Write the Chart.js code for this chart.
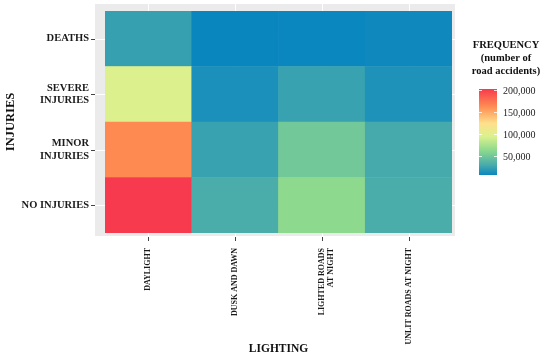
<!DOCTYPE html>
<html>
<head>
<meta charset="utf-8">
<script src="https://cdn.jsdelivr.net/npm/chart.js@4/dist/chart.umd.min.js"></script>
<style>
  html, body { margin: 0; padding: 0; background: #fff; }
  canvas { display: block; }
</style>
</head>
<body>
<canvas id="heat" width="550" height="358"></canvas>
<script>
// columns (x) and rows (y, bottom to top)
const lighting = [["DAYLIGHT"], ["DUSK AND DAWN"], ["LIGHTED ROADS", "AT NIGHT"], ["UNLIT ROADS AT NIGHT"]];
const injuries = [["NO INJURIES"], ["MINOR", "INJURIES"], ["SEVERE", "INJURIES"], ["DEATHS"]];

// frequency (number of road accidents), one array per injury row
const noInjuries = [203000, 32000, 64000, 32000];
const minorInjuries = [164000, 25000, 51000, 30000];
const severeInjuries = [96000, 14000, 25000, 15500];
const deaths = [24000, 8000, 8500, 10000];

const legendTicks = [50000, 100000, 150000, 200000];

const rows = [noInjuries, minorInjuries, severeInjuries, deaths];
const allValues = rows.flat();
const vmin = Math.min(...allValues);
const vmax = Math.max(...allValues);

const colorStops = [
    [0, "#0a86bf"],
    [0.12, "#4aacab"],
    [0.28, "#8ad88e"],
    [0.45, "#dcf18e"],
    [0.6, "#fee08b"],
    [0.8, "#fe8a52"],
    [1, "#f73a4e"]
];

function hexToRgb(h) {
    return [parseInt(h.slice(1, 3), 16), parseInt(h.slice(3, 5), 16), parseInt(h.slice(5, 7), 16)];
}

function valueColor(v) {
    const t = Math.max(0, Math.min(1, (v - vmin) / (vmax - vmin)));
    for (let i = 1; i < colorStops.length; i++) {
        if (t <= colorStops[i][0]) {
            const [t0, c0] = colorStops[i - 1];
            const [t1, c1] = colorStops[i];
            const f = (t - t0) / (t1 - t0);
            const a = hexToRgb(c0), b = hexToRgb(c1);
            const c = a.map((x, k) => Math.round(x + (b[k] - x) * f));
            return "rgb(" + c.join(",") + ")";
        }
    }
    return colorStops[colorStops.length - 1][1];
}

const serif = "'Liberation Serif', 'Times New Roman', serif";

const datasets = rows.map((row, i) => ({
    label: injuries[i].join(" "),
    data: row.map(() => [i, i + 1]),
    backgroundColor: row.map(v => valueColor(v)),
    borderWidth: 0,
    barPercentage: 1,
    categoryPercentage: 1,
    grouped: false
}));

// grey ggplot panel, white grid lines, tick marks and the colour key
const panelPlugin = {
    id: "panel",
    beforeDatasetsDraw(chart) {
        const { ctx, chartArea: a, scales } = chart;
        ctx.save();
        ctx.fillStyle = "#ebebeb";
        ctx.fillRect(a.left - 10, a.top - 7, a.right - a.left + 13, a.bottom - a.top + 10);
        ctx.strokeStyle = "#ffffff";
        ctx.lineWidth = 1;
        scales.x.ticks.forEach((t, i) => {
            const x = Math.round(scales.x.getPixelForTick(i)) + 0.5;
            ctx.beginPath();
            ctx.moveTo(x, a.top - 7);
            ctx.lineTo(x, a.bottom + 3);
            ctx.stroke();
        });
        scales.y.ticks.forEach(t => {
            const y = Math.round(scales.y.getPixelForValue(t.value)) + 0.5;
            ctx.beginPath();
            ctx.moveTo(a.left - 10, y);
            ctx.lineTo(a.right + 3, y);
            ctx.stroke();
        });
        ctx.restore();
    },
    afterDraw(chart) {
        const { ctx, chartArea: a, scales } = chart;
        ctx.save();
        // axis tick marks
        ctx.strokeStyle = "#444";
        ctx.lineWidth = 1;
        scales.x.ticks.forEach((t, i) => {
            const x = Math.round(scales.x.getPixelForTick(i)) + 0.5;
            ctx.beginPath();
            ctx.moveTo(x, a.bottom + 4);
            ctx.lineTo(x, a.bottom + 8);
            ctx.stroke();
        });
        scales.y.ticks.forEach(t => {
            const y = Math.round(scales.y.getPixelForValue(t.value)) + 0.5;
            ctx.beginPath();
            ctx.moveTo(a.left - 14, y);
            ctx.lineTo(a.left - 10, y);
            ctx.stroke();
        });

        // colour key
        const cx = 506;
        ctx.fillStyle = "#111";
        ctx.font = "bold 10.5px " + serif;
        ctx.textAlign = "center";
        ctx.textBaseline = "middle";
        ["FREQUENCY", "(number of", "road accidents)"].forEach((s, i) => ctx.fillText(s, cx, 45 + i * 13));

        const barL = 479, barW = 18, barTop = 89, barBottom = 175;
        const pix = v => barBottom - (v - vmin) / (vmax - vmin) * (barBottom - barTop);
        const grad = ctx.createLinearGradient(0, barBottom, 0, barTop);
        colorStops.forEach(([t, c]) => grad.addColorStop(t, c));
        ctx.fillStyle = grad;
        ctx.fillRect(barL, barTop, barW, barBottom - barTop);

        ctx.strokeStyle = "rgba(255,255,255,0.8)";
        ctx.font = "10px " + serif;
        ctx.textAlign = "left";
        ctx.fillStyle = "#222";
        legendTicks.forEach(v => {
            const y = Math.round(pix(v)) + 0.5;
            ctx.beginPath();
            ctx.moveTo(barL, y); ctx.lineTo(barL + 3, y);
            ctx.moveTo(barL + barW - 3, y); ctx.lineTo(barL + barW, y);
            ctx.stroke();
            ctx.fillText(v.toLocaleString("en-US"), 503, pix(v) + 1);
        });
        ctx.restore();
    }
};

new Chart(document.getElementById("heat"), {
    type: "bar",
    data: {
        labels: lighting,
        datasets
    },
    options: {
        responsive: false,
        animation: false,
        layout: {
            padding: { top: 11, right: 98, left: 0, bottom: 0 }
        },
        plugins: {
            legend: { display: false },
            tooltip: { enabled: false }
        },
        scales: {
            x: {
                grid: { display: false, drawTicks: false },
                border: { display: false },
                ticks: {
                    minRotation: 90,
                    maxRotation: 90,
                    autoSkip: false,
                    padding: 15,
                    color: "#1a1a1a",
                    font: { family: serif, size: 8, weight: "bold", lineHeight: 1.15 }
                },
                title: {
                    display: true,
                    text: "LIGHTING",
                    color: "#111",
                    font: { family: serif, size: 11.5, weight: "bold" },
                    padding: { top: 0, bottom: 2 }
                },
                afterFit(scale) {
                    scale.height = 125;
                    scale.paddingLeft = 0;
                    scale.paddingRight = 0;
                }
            },
            y: {
                min: 0,
                max: 4,
                grid: { display: false, drawTicks: false },
                border: { display: false },
                afterBuildTicks(scale) {
                    scale.ticks = injuries.map((_, i) => ({ value: i + 0.5 }));
                },
                ticks: {
                    padding: 16,
                    color: "#1a1a1a",
                    font: { family: serif, size: 10.5, weight: "bold", lineHeight: 1.15 },
                    callback: value => injuries[Math.floor(value)]
                },
                title: {
                    display: true,
                    text: "INJURIES",
                    color: "#111",
                    font: { family: serif, size: 12.5, weight: "bold" },
                    padding: { top: 3, bottom: 0 }
                },
                afterFit(scale) {
                    scale.width = 105;
                    scale.paddingTop = 0;
                    scale.paddingBottom = 0;
                }
            }
        }
    },
    plugins: [panelPlugin]
});
</script>
</body>
</html>
